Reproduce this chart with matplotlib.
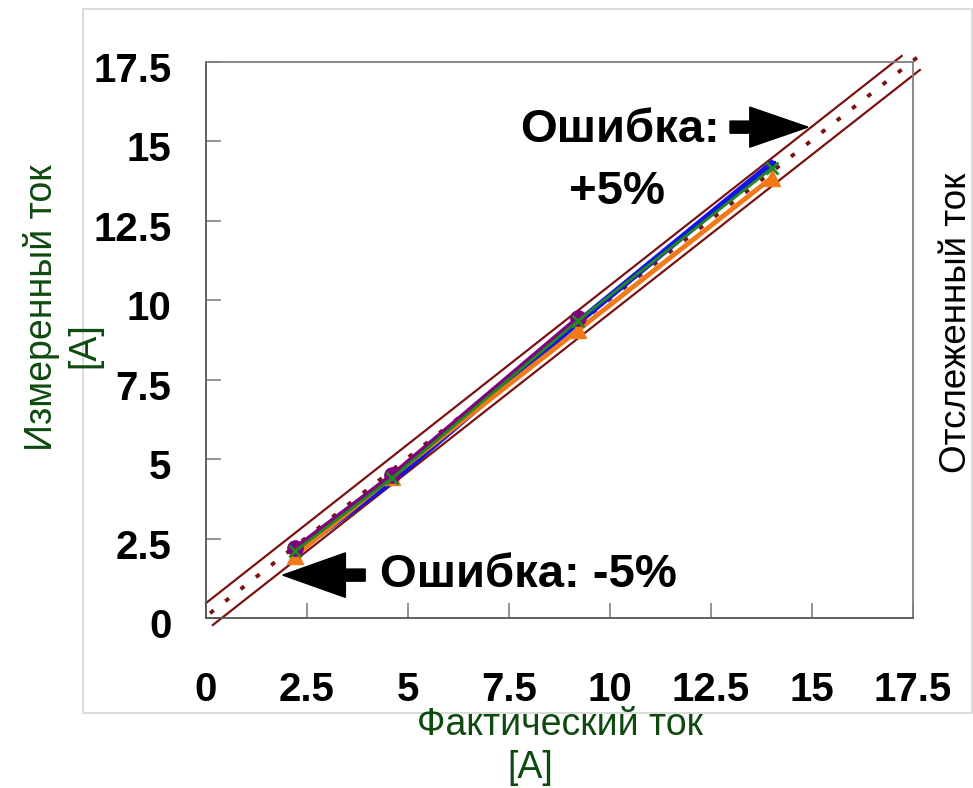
import matplotlib
matplotlib.use("Agg")
import matplotlib.pyplot as plt
from matplotlib.patches import Rectangle, FancyArrow
from matplotlib.transforms import ScaledTranslation

plt.rcParams['font.family'] = ['Liberation Sans', 'DejaVu Sans']

# measured points
actual = [2.2, 4.6, 9.2, 14.0]
purple_vals = [2.2, 4.5, 9.45]
blue_vals = [2.05, 4.3, 9.3, 14.3]
green_vals = [2.1, 4.4, 9.35, 14.15]
orange_vals = [1.95, 4.45, 9.05, 13.85]

ticks = [0, 2.5, 5, 7.5, 10, 12.5, 15, 17.5]
tick_labels = ["0", "2.5", "5", "7.5", "10", "12.5", "15", "17.5"]

# tolerance band lines (hand-drawn guides)
band_upper_x = [0.0, 17.22]
band_upper_y = [0.47, 17.69]
band_lower_x = [0.17, 17.67]
band_lower_y = [-0.22, 17.25]
ideal_x = [0.1, 17.65]
ideal_y = [0.15, 17.69]

W, H = 973, 788
fig = plt.figure(figsize=(W / 100, H / 100), dpi=100)
fig.patch.set_facecolor("white")

# light frame around the chart area
fig.patches.append(Rectangle((83 / W, 1 - 713 / H), (972 - 83) / W, (713 - 9) / H,
                             transform=fig.transFigure, fill=False,
                             edgecolor="#d4d4d4", linewidth=1.2))

ax = fig.add_axes([206 / W, 1 - 618 / H, (913 - 206) / W, (618 - 62) / H])
ax.set_xlim(0, 17.5)
ax.set_ylim(0, 17.5)

maroon = "#7a1212"
ax.plot(band_upper_x, band_upper_y, color=maroon, lw=1.6, clip_on=False)
ax.plot(band_lower_x, band_lower_y, color=maroon, lw=1.6, clip_on=False)
ax.plot(ideal_x, ideal_y, color=maroon, lw=2.8, ls=(0, (1.2, 3.8)), clip_on=False)

ax.plot(actual, blue_vals, color="#1414e6", lw=4.5, marker="s", ms=5, zorder=3)
ax.plot(actual[:3], purple_vals, color="#800080", lw=3, marker="o", ms=11, zorder=4)
ax.plot(actual, orange_vals, color="#f07a18", lw=3.5, marker="^", ms=12, zorder=3)
ax.plot(actual, green_vals, color="#1f8a1f", lw=2, marker="x", ms=9, mew=2, zorder=5)

ax.set_xticks(ticks)
ax.set_yticks(ticks)
ax.set_xticklabels(tick_labels)
ax.set_yticklabels(tick_labels)
ax.tick_params(direction="in", length=11, width=1.2, color="#808080",
               labelsize=29)
ax.tick_params(axis="x", pad=38)
ax.tick_params(axis="y", pad=25)
for lab in ax.get_xticklabels() + ax.get_yticklabels():
    lab.set_fontweight("bold")
off = ScaledTranslation(0, -5 / 100, fig.dpi_scale_trans)
for lab in ax.get_yticklabels():
    lab.set_transform(lab.get_transform() + off)

for side, sp in ax.spines.items():
    sp.set_color("#808080")
    sp.set_linewidth(1.3)
ax.spines["left"].set_color("#555555")
ax.spines["bottom"].set_color("#555555")

# error annotations
ax.add_patch(FancyArrow(12.97, 15.45, 14.9 - 12.97, 0, width=0.38, head_width=1.26,
                        head_length=1.44, length_includes_head=True,
                        color="black", clip_on=False))
ax.add_patch(FancyArrow(3.94, 1.35, 1.9 - 3.94, 0, width=0.38, head_width=1.4,
                        head_length=1.55, length_includes_head=True,
                        color="black", clip_on=False))
ax.text(12.72, 15.36, "Ошибка:", ha="right", va="center", fontsize=34,
        fontweight="bold")
ax.text(10.17, 13.4, "+5%", ha="center", va="center", fontsize=34,
        fontweight="bold")
ax.text(4.3, 1.35, "Ошибка: -5%", ha="left", va="center", fontsize=34,
        fontweight="bold")

green_lab = "#0f4a0f"
fig.text(42 / W, 1 - 308 / H, "Измеренный ток", rotation=90, ha="center",
         va="center", fontsize=27, color=green_lab)
fig.text(84 / W, 1 - 345 / H, "[A]", rotation=90, ha="center",
         va="center", fontsize=27, color=green_lab)
fig.text(560 / W, 1 - 725 / H, "Фактический ток", ha="center", va="center",
         fontsize=27, color=green_lab)
fig.text(530 / W, 1 - 768 / H, "[A]", ha="center", va="center",
         fontsize=27, color=green_lab)
fig.text(957 / W, 1 - 323 / H, "Отслеженный ток", rotation=90, ha="center",
         va="center", fontsize=26.5, color="black")

fig.savefig("out.png", dpi=100, facecolor="white")
